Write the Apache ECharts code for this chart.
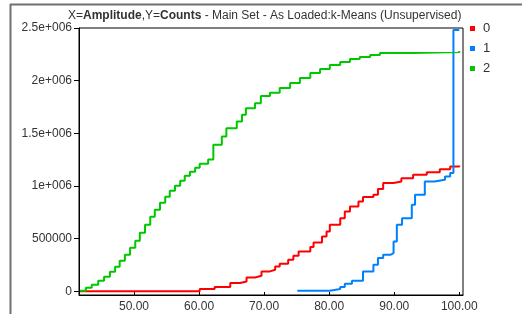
<!DOCTYPE html>
<html>
<head>
<meta charset="utf-8">
<script src="https://cdn.jsdelivr.net/npm/echarts@6/dist/echarts.min.js"></script>
<style>
html,body{margin:0;padding:0;background:#fff;}
#c{width:522px;height:314px;}
</style>
</head>
<body>
<div id="c"></div>
<script>
// Series names
var seriesNames = ['0', '1', '2'];
// Amplitude (x) where each step level begins, and the cumulative count (y)
var redX = [41.7, 58.6, 60.1, 62.4, 64.8, 66.3, 67.3, 68.6, 69.6, 70.9, 71.7, 72.4, 73.7, 74.5, 75.3, 77.1, 77.6, 78.9, 79.6, 80.1, 81.7, 82.4, 83.2, 84.5, 85.2, 86.8, 87.5, 88.3, 89.9, 91.1, 92.9, 95.0, 97.0, 98.6, 100.0];
var redY = [0, 0, 20000, 40000, 78000, 93000, 131000, 147000, 188000, 204000, 235000, 261000, 299000, 337000, 378000, 419000, 463000, 520000, 567000, 631000, 694000, 757000, 805000, 852000, 894000, 916000, 970000, 1027000, 1042000, 1074000, 1105000, 1131000, 1159000, 1184000, 1194000];
var blueX = [75.1, 80.1, 81.7, 82.4, 83.5, 85.2, 86.8, 87.5, 88.3, 89.4, 89.9, 90.4, 91.2, 92.7, 93.2, 94.7, 96.2, 97.8, 98.6, 99.1, 100.0];
var blueY = [5000, 20000, 40000, 71000, 100000, 188000, 252000, 315000, 346000, 362000, 472000, 631000, 694000, 821000, 916000, 1042000, 1058000, 1090000, 1122000, 2481000, 2487000];
var greenX = [41.7, 42.6, 43.5, 44.5, 45.4, 46.3, 47.1, 47.8, 48.6, 49.4, 50.2, 50.9, 51.7, 52.5, 53.2, 54.0, 54.8, 55.5, 56.3, 57.1, 57.8, 58.6, 59.4, 60.1, 61.4, 62.2, 63.5, 64.2, 65.8, 66.6, 67.2, 68.6, 69.5, 70.9, 72.4, 74.0, 75.5, 77.1, 78.6, 80.1, 81.7, 83.2, 84.7, 86.3, 87.8, 92.9, 100.0];
var greenY = [5000, 33000, 62000, 100000, 138000, 185000, 232000, 289000, 346000, 413000, 479000, 555000, 631000, 707000, 773000, 840000, 897000, 954000, 1001000, 1048000, 1096000, 1134000, 1172000, 1210000, 1250000, 1390000, 1469000, 1548000, 1611000, 1675000, 1738000, 1786000, 1855000, 1886000, 1931000, 1978000, 2026000, 2073000, 2111000, 2149000, 2177000, 2206000, 2225000, 2244000, 2263000, 2272000, 2282000];
// Tick values and labels
var xTicks = [50, 60, 70, 80, 90, 100];
var yTicks = [0, 500000, 1000000, 1500000, 2000000, 2500000];
var yTickLabels = ['0', '500000', '1e+006', '1.5e+006', '2e+006', '2.5e+006'];

function pairs(xs, ys) { return xs.map(function (x, i) { return [x, ys[i]]; }); }

var colors = ['#ff0000', '#0080ff', '#00c800'];
var font = 'Liberation Sans, Arial, sans-serif';
var chart = echarts.init(document.getElementById('c'), null, { renderer: 'canvas' });
chart.setOption({
  backgroundColor: '#fff',
  animation: false,
  color: colors,
  title: {
    text: 'X={b|Amplitude},Y={b|Counts} - Main Set - As Loaded:k-Means (Unsupervised)',
    left: 68, top: 10, padding: 0,
    textStyle: {
      fontFamily: font, fontSize: 12, fontWeight: 'normal', color: '#333',
      rich: { b: { fontFamily: font, fontSize: 12, fontWeight: 'bold', color: '#333' } }
    }
  },
  legend: {
    orient: 'vertical', left: 470, top: 22, itemWidth: 5, itemHeight: 5, itemGap: 7,
    icon: 'rect', padding: 0,
    textStyle: { fontFamily: font, fontSize: 13, color: '#333', padding: [0, 0, 0, 3] },
    data: seriesNames
  },
  grid: { left: 79, top: 28, right: 59, bottom: 19, show: true, borderColor: '#000', borderWidth: 1, containLabel: false },
  xAxis: {
    type: 'value', min: 41.55, max: 100.57,
    axisLine: { show: true, onZero: false, lineStyle: { color: '#000', width: 1 } },
    axisTick: { show: true, inside: true, length: 3, customValues: xTicks, lineStyle: { color: '#000' } },
    axisLabel: { customValues: xTicks, margin: 6, fontFamily: font, fontSize: 12, color: '#333',
      formatter: function (v) { return v.toFixed(2); } },
    splitLine: { show: false }
  },
  yAxis: {
    type: 'value', min: -36000, max: 2500000,
    axisLine: { show: true, onZero: false, lineStyle: { color: '#000', width: 1 } },
    axisTick: { show: true, inside: false, length: 5, customValues: yTicks, lineStyle: { color: '#000' } },
    axisLabel: { customValues: yTicks, margin: 7, fontFamily: font, fontSize: 12, color: '#333',
      formatter: function (v) { var i = yTicks.indexOf(v); return i >= 0 ? yTickLabels[i] : ''; } },
    splitLine: { show: false }
  },
  graphic: [
    { type: 'line', shape: { x1: 10, y1: 4.5, x2: 522, y2: 4.5 }, style: { stroke: '#707070', lineWidth: 2 } },
    { type: 'line', shape: { x1: 10.5, y1: 4, x2: 10.5, y2: 314 }, style: { stroke: '#707070', lineWidth: 2 } }
  ],
  series: [
    { name: seriesNames[0], type: 'line', step: 'end', showSymbol: false, symbol: 'none', data: pairs(redX, redY), lineStyle: { width: 2 } },
    { name: seriesNames[1], type: 'line', step: 'end', showSymbol: false, symbol: 'none', data: pairs(blueX, blueY), lineStyle: { width: 2 } },
    { name: seriesNames[2], type: 'line', step: 'end', showSymbol: false, symbol: 'none', data: pairs(greenX, greenY), lineStyle: { width: 2 } }
  ]
});
</script>
</body>
</html>
